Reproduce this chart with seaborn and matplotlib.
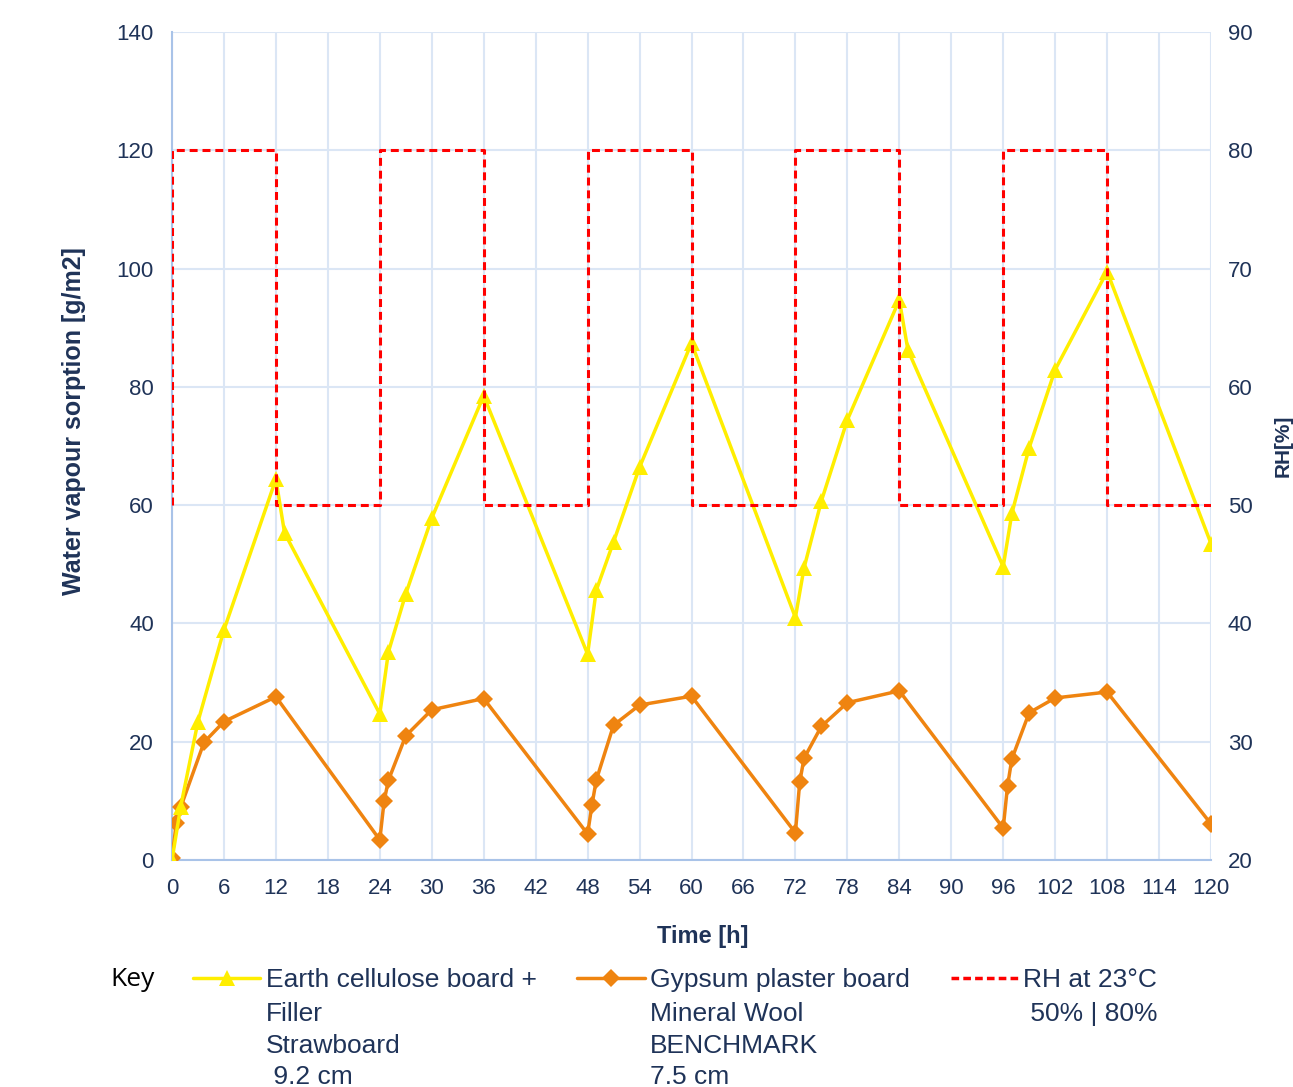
import numpy as np
import pandas as pd
import seaborn as sns
from matplotlib import pyplot as plt
from matplotlib.lines import Line2D

# --- data ---
earth_t = [0, 1, 3, 6, 12, 13, 24, 25, 27, 30, 36, 48, 49, 51, 54, 60,
           72, 73, 75, 78, 84, 85, 96, 97, 99, 102, 108, 120]
earth_v = [0, 9.0, 23.4, 38.9, 64.4, 55.3, 24.7, 35.2, 45.0, 57.8, 78.5,
           34.8, 45.6, 53.8, 66.4, 87.4, 41.0, 49.4, 60.7, 74.4, 94.7, 86.2,
           49.6, 58.6, 69.7, 82.9, 99.5, 53.5]

gyps_t = [0, 0.5, 1, 3.7, 6, 12, 24, 24.5, 25, 27, 30, 36, 48, 48.5, 49, 51,
          54, 60, 72, 72.5, 73, 75, 78, 84, 96, 96.5, 97, 99, 102, 108, 120]
gyps_v = [0.3, 6.3, 8.9, 19.9, 23.4, 27.6, 3.4, 10.0, 13.5, 21.0, 25.4, 27.3,
          4.4, 9.3, 13.5, 22.8, 26.2, 27.7, 4.6, 13.2, 17.2, 22.6, 26.6, 28.6,
          5.4, 12.5, 17.1, 24.9, 27.4, 28.4, 6.1]

rh_t = [0, 0, 12, 12, 24, 24, 36, 36, 48, 48, 60, 60, 72, 72, 84, 84,
        96, 96, 108, 108, 120]
rh_v = [50, 80, 80, 50, 50, 80, 80, 50, 50, 80, 80, 50, 50, 80, 80, 50,
        50, 80, 80, 50, 50]

labels_first = ["Earth cellulose board +", "Gypsum plaster board", "RH at 23°C"]
labels_rest = ["Filler\nStrawboard\n 9.2 cm", "Mineral Wool\nBENCHMARK\n7.5 cm",
               " 50% | 80%"]

yellow = "#ffee00"
orange = "#ef8410"
red = "#ff0000"
navy = "#1f3358"
gridc = "#dbe6f5"

sns.set_style("white")
plt.rcParams["font.family"] = ["Liberation Sans", "DejaVu Sans"]

fig, ax = plt.subplots(figsize=(12.93, 10.87), dpi=100)
fig.subplots_adjust(left=172 / 1293, right=1211 / 1293,
                    top=1 - 32 / 1087, bottom=1 - 860 / 1087)

df_e = pd.DataFrame({"t": earth_t, "v": earth_v})
df_g = pd.DataFrame({"t": gyps_t, "v": gyps_v})
df_rh = pd.DataFrame({"t": rh_t, "v": rh_v})

sns.lineplot(data=df_g, x="t", y="v", ax=ax, color=orange, lw=2.5,
             marker="D", markersize=9, markeredgewidth=0, sort=False,
             estimator=None, zorder=3)
sns.lineplot(data=df_e, x="t", y="v", ax=ax, color=yellow, lw=2.5,
             marker="^", markersize=12, markeredgewidth=0, sort=False,
             estimator=None, zorder=4)

ax.set_xlim(0, 120)
ax.set_ylim(0, 140)
ax.set_xticks(np.arange(0, 121, 6))
ax.set_yticks(np.arange(0, 141, 20))
ax.grid(True, color=gridc, lw=1.5)
ax.set_axisbelow(True)
for s in ["top", "right"]:
    ax.spines[s].set_visible(False)
for s in ["left", "bottom"]:
    ax.spines[s].set_color("#a9c3e8")
    ax.spines[s].set_linewidth(1.5)
ax.tick_params(length=0, labelsize=16, labelcolor=navy)
ax.tick_params(axis="x", pad=13)
ax.tick_params(axis="y", pad=13)

ax.set_xlabel("Time [h]", fontsize=17, fontweight="bold", color=navy)
ax.set_ylabel("Water vapour sorption [g/m2]", fontsize=18,
              fontweight="bold", color=navy)
ax.xaxis.set_label_coords(0.511, -0.078)
ax.yaxis.set_label_coords(-0.083, 0.53)

ax2 = ax.twinx()
sns.lineplot(data=df_rh, x="t", y="v", ax=ax2, color=red, lw=2.2,
             sort=False, estimator=None, zorder=5)
ax2.lines[-1].set_dashes((2.6, 1.6))
ax2.set_ylim(20, 90)
ax2.set_yticks(np.arange(20, 91, 10))
ax2.grid(False)
for s in ax2.spines.values():
    s.set_visible(False)
ax2.tick_params(length=0, labelsize=16, labelcolor=navy, pad=12)
ax2.set_ylabel("RH[%]", fontsize=15, fontweight="bold", color=navy)
ax2.yaxis.set_label_coords(1.060, 0.5)

# --- key / legend ---
handles = [
    Line2D([], [], color=yellow, lw=2.5, marker="^", markersize=12,
           markeredgewidth=0),
    Line2D([], [], color=orange, lw=2.5, marker="D", markersize=9,
           markeredgewidth=0),
    Line2D([], [], color=red, lw=2.5, dashes=(2.2, 1.2)),
]
leg = fig.legend(handles, labels_first, ncol=3, loc="center left",
                 bbox_to_anchor=(193 / 1293, 1 - 980 / 1087),
                 frameon=False, fontsize=19, handlelength=2.55,
                 handletextpad=0.2, columnspacing=1.55, borderpad=0,
                 borderaxespad=0)
for t in leg.get_texts():
    t.set_color(navy)

fig.text(110 / 1293, 1 - 980 / 1087, "Key", family="Open Sans", fontsize=19,
         color="black", ha="left", va="center")

fig.canvas.draw()
rend = fig.canvas.get_renderer()
for t, rest in zip(leg.get_texts(), labels_rest):
    bb = t.get_window_extent(rend)
    fig.text(bb.x0 / fig.bbox.width, 1 - 1002 / 1087, rest, fontsize=19,
             color=navy, ha="left", va="top", linespacing=1.4)

fig.savefig("out.png", dpi=100)
